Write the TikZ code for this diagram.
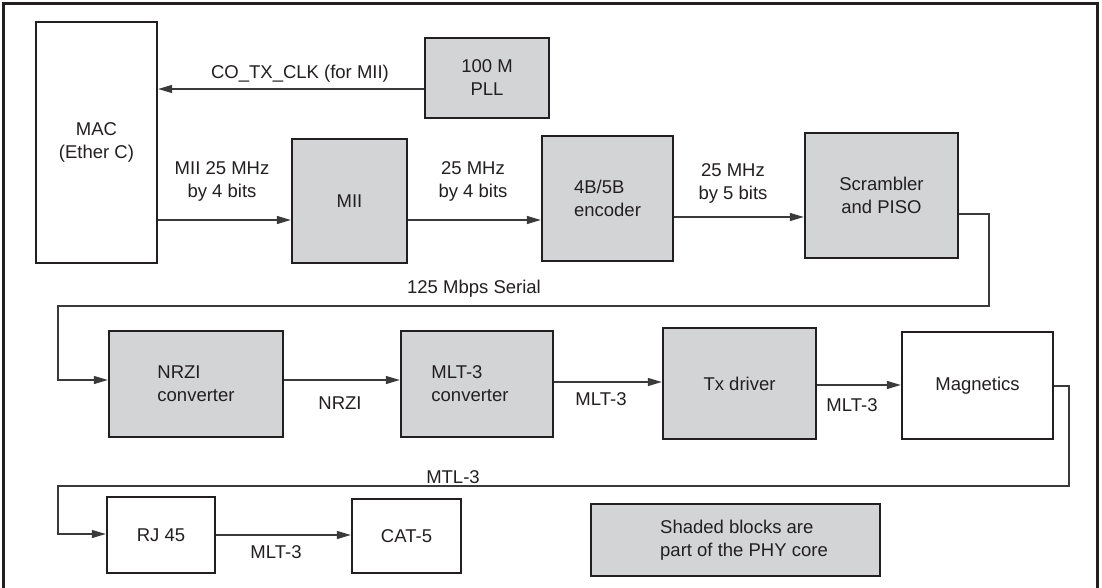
\documentclass[tikz,border=0pt]{standalone}
\usepackage{fontspec}
\setmainfont{Liberation Sans}
\usetikzlibrary{arrows.meta}
\definecolor{boxfill}{HTML}{D3D4D6}
\definecolor{ink}{HTML}{231F20}
\definecolor{wire}{HTML}{3A3A3A}
\begin{document}
\begin{tikzpicture}[x=1pt,y=-1pt,
  every node/.style={font=\fontsize{18.5}{23}\selectfont, text=ink},
  blk/.style={draw=ink, line width=2.4pt, inner sep=0pt, align=center},
  shaded/.style={blk, fill=boxfill},
  plain/.style={blk, fill=white},
  arr/.style={draw=wire, line width=1.3pt, -{Triangle[length=14pt,width=8pt]}},
  wireline/.style={draw=wire, line width=1.3pt},
  lbl/.style={inner sep=0pt, align=center}
]
\useasboundingbox (0,0) rectangle (1102,588);
\fill[white] (0,0) rectangle (1102,588);
% outer frame
\draw[ink, line width=3pt] (3,590) -- (3,4) -- (1097,4) -- (1097,590);

% blocks
\node[plain, minimum width=121pt, minimum height=241pt] (mac) at (96.5,142.5) {MAC\\(Ether C)};
\node[shaded, minimum width=124pt, minimum height=80pt] (pll) at (487,78) {100 M\\PLL};
\node[shaded, minimum width=115pt, minimum height=124pt] (mii) at (349.5,201) {MII};
\node[shaded, minimum width=131pt, minimum height=125pt, align=left] (enc) at (607.5,198.5) {4B/5B\\encoder};
\node[shaded, minimum width=153pt, minimum height=125pt] (scr) at (881.5,195.5) {Scrambler\\and PISO};
\node[shaded, minimum width=174pt, minimum height=106pt, align=left] (nrzi) at (196,384) {NRZI\\converter};
\node[shaded, minimum width=152pt, minimum height=106pt] (mlt) at (477,384) {};
\node[lbl, align=left] (mlttext) at (470,383.5) {MLT-3\\converter};
\node[shaded, minimum width=153pt, minimum height=111pt] (tx) at (739.5,383.5) {Tx driver};
\node[plain, minimum width=151pt, minimum height=107pt] (mag) at (977.5,385.5) {Magnetics};
\node[plain, minimum width=108pt, minimum height=76pt] (rj) at (161,535) {RJ 45};
\node[plain, minimum width=109pt, minimum height=74pt] (cat) at (406.5,536) {CAT-5};
\node[shaded, minimum width=289pt, minimum height=72pt] (legend) at (735.5,540) {};
\node[lbl, align=left] (legendtext) at (744,540.5) {Shaded blocks are\\part of the PHY core};

% connectors
\draw[arr] (pll.west |- 0,89) -- (mac.east |- 0,89);
\draw[arr] (mac.east |- 0,220) -- (mii.west |- 0,220);
\draw[arr] (mii.east |- 0,220) -- (enc.west |- 0,220);
\draw[arr] (enc.east |- 0,217) -- (scr.west |- 0,217);
\draw[arr] (scr.east |- 0,214) -- (989,214) -- (989,306) -- (58,306) -- (58,380) -- (nrzi.west |- 0,380);
\draw[arr] (nrzi.east |- 0,380) -- (mlt.west |- 0,380);
\draw[arr] (mlt.east |- 0,382) -- (tx.west |- 0,382);
\draw[arr] (tx.east |- 0,385) -- (mag.west |- 0,385);
\draw[arr] (mag.east |- 0,386) -- (1069,386) -- (1069,486) -- (58,486) -- (58,534) -- (rj.west |- 0,534);
\draw[arr] (rj.east |- 0,535) -- (cat.west |- 0,535);

% connector labels
\node[lbl] (l1) at (300,74) {CO\_TX\_CLK (for MII)};
\node[lbl] (l2) at (222,181.5) {MII 25 MHz\\by 4 bits};
\node[lbl] (l3) at (473,181.5) {25 MHz\\by 4 bits};
\node[lbl] (l4) at (733,183) {25 MHz\\by 5 bits};
\node[lbl] (l5) at (474,289) {125 Mbps Serial};
\node[lbl] (l6) at (340,403) {NRZI};
\node[lbl] (l7) at (601,399) {MLT-3};
\node[lbl] (l8) at (852,405) {MLT-3};
\node[lbl] (l9) at (453,477) {MTL-3};
\node[lbl] (l10) at (276,552) {MLT-3};
\end{tikzpicture}
\end{document}
